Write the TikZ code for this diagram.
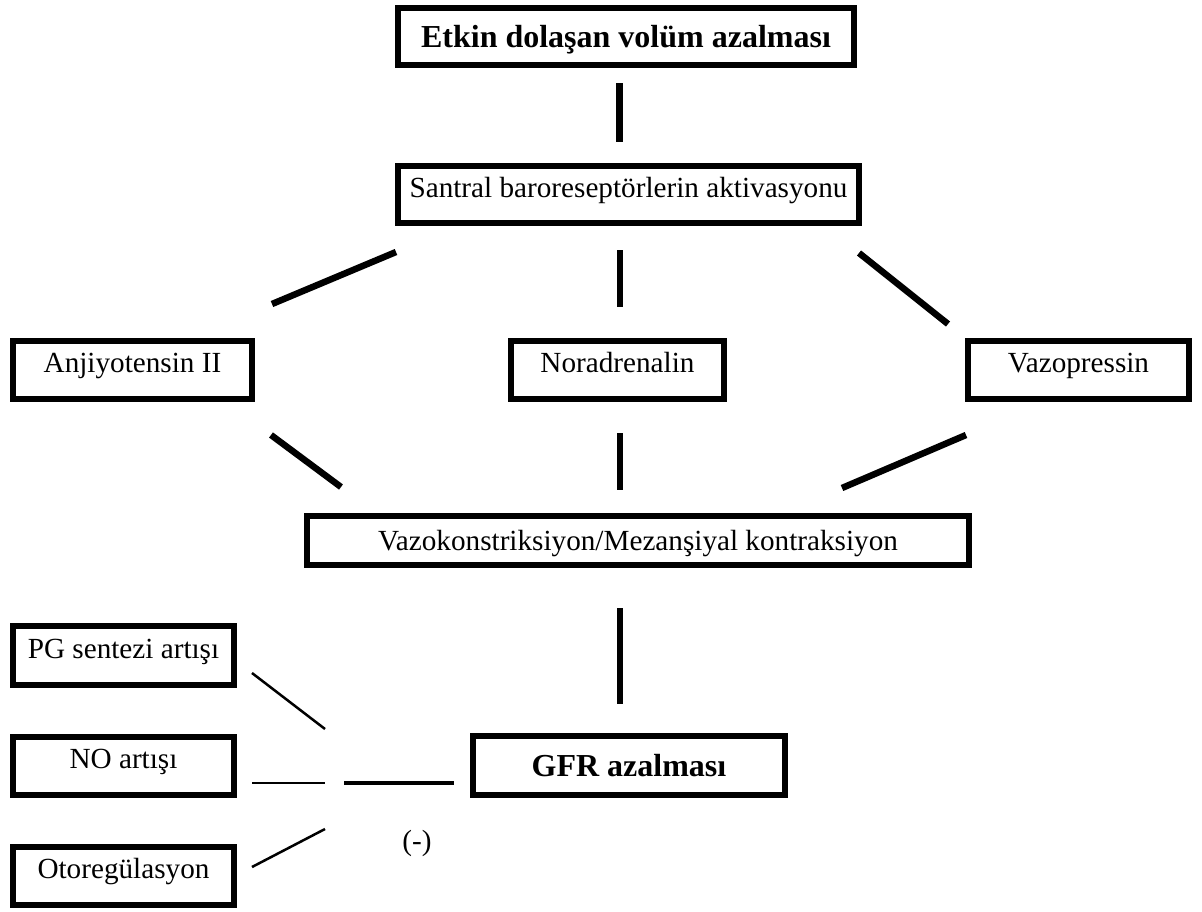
\documentclass[tikz,border=0pt]{standalone}
\usepackage{fontspec}
\setmainfont{Liberation Serif}
\tikzset{
  box/.style={draw, line width=6pt, inner sep=0pt, fill=white,
    font=\fontsize{29.2}{34}\selectfont, text height=20.4pt, text depth=15pt},
  cbox/.style={box, text height=20.4pt, text depth=1.2pt},
  bbox/.style={box, font=\fontsize{32}{38}\selectfont\bfseries, text height=22.4pt, text depth=0.8pt},
  conn/.style={line width=6.5pt, line cap=butt},
  thinconn/.style={line width=2.5pt, line cap=butt},
  midconn/.style={line width=4pt, line cap=butt}
}
\begin{document}
\begin{tikzpicture}[x=1pt,y=-1pt]
\useasboundingbox (0,0) rectangle (1202,911);
% boxes
\node[bbox, minimum width=456pt, minimum height=57pt] (top) at (626,36.5) {Etkin dolaşan volüm azalması};
\node[box, minimum width=461pt, minimum height=57pt] (sant) at (628.5,194.5) {Santral baroreseptörlerin aktivasyonu};
\node[box, minimum width=239pt, minimum height=58pt] (anj) at (132.5,370) {Anjiyotensin II};
\node[box, minimum width=213pt, minimum height=58pt] (nor) at (617.5,370) {Noradrenalin};
\node[box, minimum width=221pt, minimum height=58pt] (vp) at (1078.5,370) {Vazopressin};
\node[cbox, minimum width=662pt, minimum height=49pt] (vk) at (638,540.5) {Vazokonstriksiyon/Mezanşiyal kontraksiyon};
\node[bbox, minimum width=312pt, minimum height=59pt] (gfr) at (629,765.5) {GFR azalması};
\node[box, minimum width=221pt, minimum height=59pt] (pg) at (123.5,655.5) {PG sentezi artışı};
\node[box, minimum width=221pt, minimum height=58pt] (no) at (123.5,766) {NO artışı};
\node[box, minimum width=221pt, minimum height=58pt] (oto) at (123.5,876) {Otoregülasyon};
\node[font=\fontsize{29.2}{34}\selectfont] (neg) at (417,843) {(-)};
% connector end points
\coordinate (a1) at (619.5,83);  \coordinate (a2) at (619.5,142);
\coordinate (b1) at (396,252);   \coordinate (b2) at (272,304);
\coordinate (c1) at (620,250);   \coordinate (c2) at (620,307);
\coordinate (d1) at (859,253);   \coordinate (d2) at (948,324);
\coordinate (e1) at (271,435);   \coordinate (e2) at (341,487);
\coordinate (f1) at (620,433);   \coordinate (f2) at (620,490);
\coordinate (g1) at (966,435);   \coordinate (g2) at (842,488);
\coordinate (h1) at (620,608);   \coordinate (h2) at (620,704);
\coordinate (i1) at (252,673);   \coordinate (i2) at (325,729);
\coordinate (j1) at (252,783);   \coordinate (j2) at (325,783);
\coordinate (k1) at (252,867);   \coordinate (k2) at (325,829);
\coordinate (m1) at (344,783);   \coordinate (m2) at (454,783);
% connectors
\draw[conn] (a1) -- (a2);
\draw[conn] (b1) -- (b2);
\draw[conn] (c1) -- (c2);
\draw[conn] (d1) -- (d2);
\draw[conn] (e1) -- (e2);
\draw[conn] (f1) -- (f2);
\draw[conn] (g1) -- (g2);
\draw[conn] (h1) -- (h2);
\draw[thinconn] (i1) -- (i2);
\draw[thinconn] (j1) -- (j2);
\draw[thinconn] (k1) -- (k2);
\draw[midconn] (m1) -- (m2);
\end{tikzpicture}
\end{document}
